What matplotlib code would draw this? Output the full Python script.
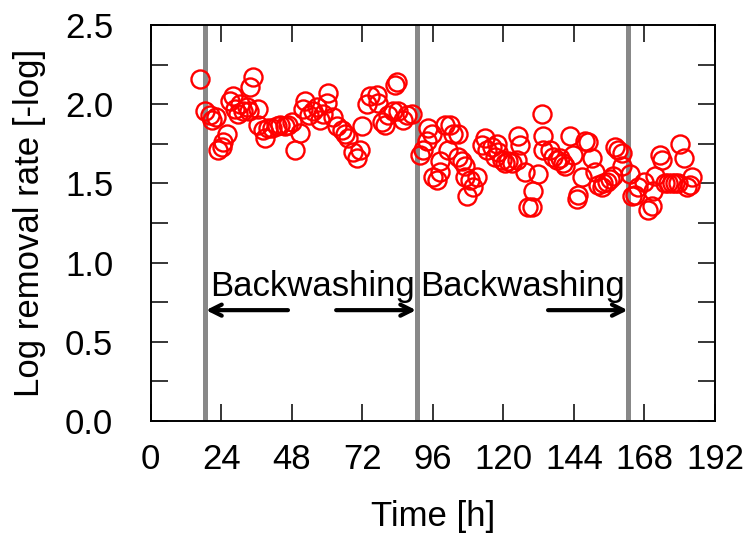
"""Log removal rate over time with backwashing events."""

import matplotlib
matplotlib.use("Agg")
import matplotlib.pyplot as plt
from matplotlib.ticker import MultipleLocator

plt.rcParams["font.family"] = ["Liberation Sans", "DejaVu Sans"]

# ── data ────────────────────────────────────────────────────────────────
time_h = [
    16.8, 18.5, 20.2, 20.7, 22.2, 23.0, 24.1, 24.7, 25.9, 27.0, 28.1, 28.7,
    29.8, 30.4, 31.5, 32.7, 33.5, 33.8, 34.7, 36.6, 36.6, 38.1, 38.9, 40.0,
    41.2, 42.9, 44.0, 45.7, 46.8, 48.0, 49.1, 50.8, 51.9, 52.5, 54.0, 55.3,
    56.5, 57.6, 58.7, 59.9, 60.4, 62.1, 63.3, 65.0, 66.1, 67.2, 69.0, 70.1,
    71.2, 71.8, 73.5,
    74.6, 76.9, 77.4, 78.6, 79.7, 80.8, 82.6, 83.1, 83.7, 84.2, 85.9, 87.1,
    88.8, 91.6, 92.8, 93.9, 94.5, 95.6, 96.2, 97.3, 98.4, 98.4, 100.1, 101.3,
    101.8, 103.0, 104.7, 104.7, 105.8, 106.9, 106.9, 107.5, 108.6, 109.8,
    110.9, 112.6, 113.7, 114.3, 116.0, 117.1, 117.7, 118.3, 119.4, 120.6,
    121.7, 122.8, 124.5, 125.1, 125.7, 127.4, 128.5, 129.6, 130.2, 131.9,
    133.0, 133.6, 133.6,
    135.9, 137.0, 138.2, 139.3, 140.4, 141.0, 142.7, 143.8, 145.0, 145.5,
    146.6, 147.8, 148.9, 150.1, 151.2, 152.3, 153.5, 154.0, 155.2, 156.3,
    157.4, 158.0, 159.1, 160.3, 160.3, 163.1, 163.7, 164.8, 165.9, 167.7,
    169.3, 170.5, 171.0, 171.6, 173.3, 173.9, 175.0, 176.1, 177.3, 178.4,
    179.5, 180.1, 181.3, 182.4, 183.5, 184.1,
]
log_removal = [
    2.16, 1.96, 1.93, 1.90, 1.92, 1.71, 1.73, 1.76, 1.81, 2.02, 2.05, 1.97,
    1.94, 2.00, 1.96, 1.98, 1.96, 2.11, 2.17, 1.97, 1.87, 1.84, 1.79, 1.85,
    1.85, 1.86, 1.87, 1.86, 1.87, 1.89, 1.71, 1.82, 1.97, 2.02, 1.93, 1.96,
    1.98, 1.90, 1.94, 2.01, 2.07, 1.92, 1.86, 1.84, 1.81, 1.79, 1.70, 1.66,
    1.71, 1.86, 2.00,
    2.05, 2.06, 2.01, 1.89, 1.87, 1.93, 1.96, 2.12, 2.14, 1.96, 1.90, 1.93,
    1.94, 1.68, 1.71, 1.77, 1.85, 1.81, 1.54, 1.52, 1.64, 1.57, 1.87, 1.71,
    1.87, 1.81, 1.81, 1.67, 1.64, 1.61, 1.54, 1.42, 1.52, 1.48,
    1.54, 1.74, 1.79, 1.71, 1.73, 1.67, 1.75, 1.70, 1.65, 1.63,
    1.64, 1.63, 1.65, 1.80, 1.74, 1.57, 1.35, 1.35, 1.45, 1.56,
    1.94, 1.80, 1.71,
    1.71, 1.67, 1.65, 1.66, 1.63, 1.61, 1.80, 1.68, 1.40, 1.43,
    1.54, 1.77, 1.76, 1.66, 1.57, 1.49, 1.48, 1.50, 1.51, 1.53,
    1.55, 1.73, 1.71, 1.69, 1.61, 1.56, 1.42, 1.43, 1.48, 1.51,
    1.33, 1.36, 1.45, 1.55, 1.68, 1.65, 1.50, 1.50, 1.50, 1.50,
    1.50, 1.75, 1.66, 1.48, 1.49, 1.54,
]

backwash_h = [18.5, 90.5, 162.5]
# (tail, tip) of each arrow in hours
arrows = [(46.7, 18.8), (63.1, 90.3), (135.2, 162.3)]
label_x = [54.9, 126.6]

FS = 25

fig = plt.figure(figsize=(7.52, 5.45), dpi=100)
ax = fig.add_axes([0.2004, 0.2275, 0.7504, 0.7265])

for t in backwash_h:
    ax.axvline(t, color="#888888", linewidth=3.6, zorder=1)

ax.plot(time_h, log_removal, linestyle="none", marker="o", markersize=13,
        markerfacecolor="none", markeredgecolor="#ff0000",
        markeredgewidth=1.7, zorder=3)

for tail, tip in arrows:
    ax.annotate("", xy=(tip, 0.7), xytext=(tail, 0.7),
                arrowprops=dict(arrowstyle="->,head_length=0.8,head_width=0.4",
                                color="black", lw=3, shrinkA=0, shrinkB=0))
for lx in label_x:
    ax.text(lx, 0.79, "Backwashing", fontsize=FS, ha="center", va="baseline")

ax.set_xlim(0, 192)
ax.set_ylim(0, 2.5)
ax.xaxis.set_major_locator(MultipleLocator(24))
ax.yaxis.set_major_locator(MultipleLocator(0.5))
ax.yaxis.set_minor_locator(MultipleLocator(0.25))
ax.yaxis.set_major_formatter(plt.FormatStrFormatter("%.1f"))

ax.tick_params(which="both", direction="in", top=True, right=True,
               length=12, width=1.1, labelsize=FS)
ax.tick_params(axis="y", which="major", pad=27)
ax.tick_params(axis="x", which="major", pad=16)
for s in ax.spines.values():
    s.set_linewidth(1.4)

ax.set_xlabel("Time [h]", fontsize=FS, labelpad=17)
ax.set_ylabel("Log removal rate [-log]", fontsize=FS, labelpad=14)

fig.savefig("out.png", dpi=100)
